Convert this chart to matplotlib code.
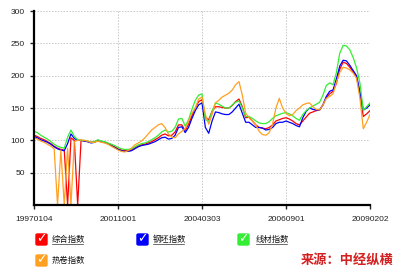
import numpy as np
import matplotlib
matplotlib.use("Agg")
import matplotlib.pyplot as plt
from matplotlib.patches import FancyBboxPatch
from matplotlib.lines import Line2D

# Index series (one value per period, 0 = missing data)
composite = [108, 106, 103, 101, 98, 95, 91, 88, 86, 85, 0, 104, 100, 0, 100, 99, 98, 97, 98, 100,
             98, 97, 95, 93, 90, 87, 85, 84, 84, 85, 88, 91, 93, 94, 96, 98, 101, 104, 108, 110,
             107, 108, 113, 124, 124, 115, 125, 138, 150, 160, 163, 135, 132, 145, 152, 152, 151, 150, 150, 154,
             160, 164, 152, 135, 136, 130, 124, 120, 119, 118, 120, 124, 130, 132, 134, 135, 133, 130, 126, 124,
             130, 136, 142, 144, 146, 147, 155, 166, 172, 176, 188, 210, 221, 219, 213, 206, 198, 172, 137, 141,
             146]
billet = [106, 104, 101, 99, 97, 94, 90, 87, 85, 84, 95, 110, 103, 100, 100, 99, 98, 96, 97, 100,
          98, 97, 95, 92, 89, 86, 84, 83, 83, 84, 87, 90, 92, 93, 94, 96, 98, 101, 104, 105,
          102, 103, 108, 120, 121, 112, 120, 134, 146, 155, 158, 120, 111, 130, 144, 143, 141, 140, 140, 144,
          150, 156, 142, 128, 128, 124, 120, 120, 119, 116, 117, 120, 126, 128, 128, 130, 128, 126, 123, 121,
          135, 145, 150, 148, 147, 147, 155, 168, 176, 178, 195, 215, 224, 223, 216, 208, 200, 175, 147, 150,
          155]
wire_rod = [114, 112, 108, 105, 102, 98, 94, 91, 89, 88, 105, 116, 106, 101, 100, 100, 99, 97, 98, 101,
            99, 98, 96, 94, 92, 89, 87, 86, 86, 87, 90, 93, 95, 96, 98, 101, 104, 108, 113, 116,
            113, 114, 120, 133, 134, 122, 132, 148, 162, 170, 172, 132, 129, 145, 158, 156, 153, 150, 150, 155,
            159, 161, 150, 137, 137, 134, 130, 127, 126, 126, 129, 134, 138, 140, 142, 143, 141, 138, 134, 131,
            140, 146, 150, 153, 156, 159, 170, 185, 189, 186, 205, 235, 247, 246, 240, 228, 212, 189, 146, 152,
            158]
hot_coil = [104, 102, 99, 97, 94, 91, 87, 0, 85, 0, 88, 0, 98, 100, 101, 100, 99, 97, 97, 99,
            97, 96, 94, 91, 88, 85, 83, 82, 84, 88, 93, 96, 99, 104, 110, 116, 120, 124, 126, 120,
            110, 105, 104, 110, 114, 118, 130, 142, 150, 164, 167, 140, 125, 140, 158, 162, 167, 170, 173, 178,
            186, 191, 170, 142, 135, 130, 124, 114, 109, 108, 112, 125, 150, 165, 150, 142, 138, 140, 146, 150,
            155, 157, 158, 152, 148, 147, 155, 165, 168, 172, 190, 205, 213, 212, 209, 204, 196, 165, 118, 128,
            140]

series_names = ["综合指数", "钢坯指数", "线材指数", "热卷指数"]
series_colors = ["#ff0000", "#0000ff", "#33ee33", "#ffa020"]
tick_labels = ["19970104", "20011001", "20040303", "20060901", "20090202"]
source_text = "来源：中经纵横"

fig = plt.figure(figsize=(4.0, 2.71), dpi=100)
ax = fig.add_axes([0.085, 0.2435, 0.84, 0.7155])

x = np.arange(len(composite))
for vals, color in zip([composite, billet, wire_rod, hot_coil], series_colors):
    ax.plot(x, vals, color=color, lw=0.9)

ax.set_xlim(0, len(composite) - 1)
ax.set_ylim(0, 300)
ax.set_yticks([50, 100, 150, 200, 250, 300])
ax.set_xticks(np.linspace(0, len(composite) - 1, len(tick_labels)))
ax.set_xticklabels(tick_labels)
ax.grid(True, color="#c8c8c8", linestyle=(0, (1.5, 1.5)), lw=0.7)
for side in ["top", "right"]:
    ax.spines[side].set_visible(False)
for side in ["left", "bottom"]:
    ax.spines[side].set_linewidth(1.6)
ax.tick_params(axis="both", labelsize=6, colors="#222222", length=3, width=1,
               labelfontfamily="Liberation Sans")
ax.tick_params(axis="x", pad=5)

# checkbox-style legend drawn on the figure
W, H = 400.0, 271.0
legend_spots = [(36, 239, 52), (137, 239, 153), (238, 239, 256), (36, 260, 52)]
for (bx, by, tx), name, color in zip(legend_spots, series_names, series_colors):
    box = FancyBboxPatch((bx / W, 1 - (by + 6) / H), 11 / W, 11 / H,
                         boxstyle="round,pad=0,rounding_size=0.004",
                         transform=fig.transFigure, facecolor=color, edgecolor=color)
    fig.add_artist(box)
    fig.text((bx + 5.5) / W, 1 - by / H, "\u2713", color="white", fontsize=9,
             fontweight="bold", ha="center", va="center", family="DejaVu Sans")
    t = fig.text(tx / W, 1 - by / H, name, fontsize=6, ha="left", va="center",
                 family="Noto Sans CJK SC", color="#111111")
    if name != "热卷指数":
        fig.add_artist(Line2D([tx / W, (tx + 31) / W], [1 - (by + 5) / H] * 2,
                              transform=fig.transFigure, color="#333333", lw=0.5))

fig.text(393 / W, 1 - 260 / H, source_text, fontsize=9.5, fontweight="bold",
         color="#d42020", ha="right", va="center", family="Noto Sans CJK SC")

fig.savefig("out.png", dpi=100)
plt.close(fig)
